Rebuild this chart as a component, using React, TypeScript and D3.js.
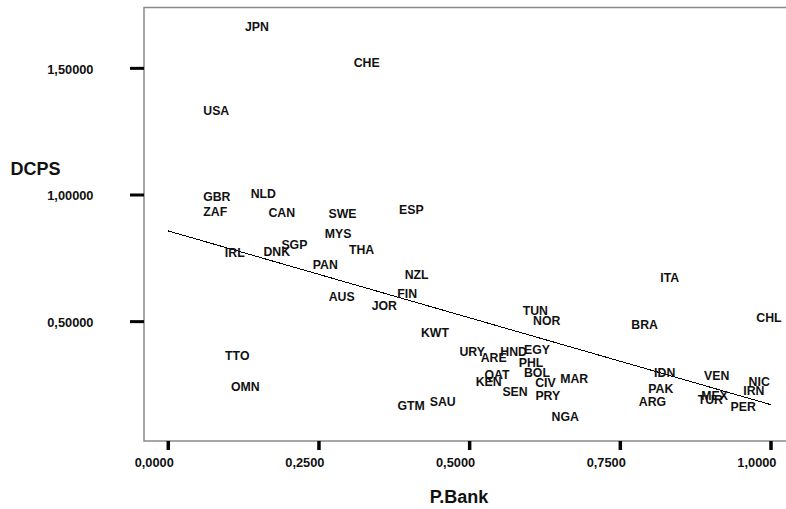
import React from "react";
import * as d3 from "d3";

// Country codes with their P.Bank (x) and DCPS (y) values
const countries = [
  "JPN", "CHE", "USA", "GBR", "NLD", "ZAF", "CAN", "SWE", "MYS", "SGP",
  "THA", "IRL", "DNK", "ESP", "PAN", "NZL", "FIN", "AUS", "JOR", "KWT",
  "TTO", "OMN", "GTM", "SAU", "URY", "ARE", "HND", "EGY", "PHL", "QAT",
  "BOL", "KEN", "CIV", "MAR", "SEN", "PRY", "NGA", "TUN", "NOR", "BRA",
  "ITA", "CHL", "IDN", "PAK", "ARG", "VEN", "MEX", "TUR", "PER", "NIC",
  "IRN",
];

const pBank = [
  0.1472, 0.3292, 0.0796, 0.0805, 0.1576, 0.078, 0.1882, 0.289, 0.2819, 0.2092,
  0.3206, 0.1103, 0.1799, 0.4032, 0.2605, 0.4121, 0.3964, 0.2877, 0.3584, 0.4425,
  0.1145, 0.1278, 0.403, 0.4553, 0.5042, 0.5399, 0.5731, 0.6117, 0.6018, 0.5454,
  0.6117, 0.5316, 0.6258, 0.6735, 0.5753, 0.6297, 0.6585, 0.6089, 0.628, 0.7904,
  0.8319, 0.9967, 0.8236, 0.8172, 0.8034, 0.9099, 0.9063, 0.8993, 0.954, 0.9804,
  0.9715,
];

const dcps = [
  1.6652, 1.5239, 1.3336, 0.9949, 1.0059, 0.9329, 0.9317, 0.925, 0.8488, 0.8058,
  0.7829, 0.7718, 0.7762, 0.942, 0.7237, 0.6842, 0.6119, 0.5985, 0.563, 0.458,
  0.3656, 0.2432, 0.1682, 0.184, 0.3833, 0.3573, 0.3833, 0.3893, 0.3368, 0.2914,
  0.3, 0.2637, 0.2606, 0.2736, 0.2235, 0.2073, 0.1248, 0.5432, 0.5038, 0.4895,
  0.6751, 0.5156, 0.3, 0.2369, 0.184, 0.2866, 0.2077, 0.1907, 0.1642, 0.2629,
  0.2274,
];

const xTicks = [0, 0.25, 0.5, 0.75, 1.0];
const xTickLabels = ["0,0000", "0,2500", "0,5000", "0,7500", "1,0000"];
const yTicks = [0.5, 1.0, 1.5];
const yTickLabels = ["0,50000", "1,00000", "1,50000"];

// Linear fit line over the P.Bank range 0..1
const fitRange = [0, 1];
const fitIntercept = 0.858;
const fitSlope = -0.686;

const W = 786;
const H = 509;
const FONT = "'Liberation Sans', Arial, Helvetica, sans-serif";

export default function App() {
  const plotLeft = 144;
  const plotTop = 7.5;
  const plotBottom = 441;

  const x = d3.scaleLinear().domain([-0.0403, 1.0249]).range([plotLeft, W]);
  const y = d3.scaleLinear().domain([0.0288, 1.7402]).range([plotBottom, plotTop]);

  const fitLine = d3
    .line<number>()
    .x((v) => x(v))
    .y((v) => y(fitIntercept + fitSlope * v))(fitRange) as string;

  return (
    <svg
      width={W}
      height={H}
      viewBox={`0 0 ${W} ${H}`}
      style={{ position: "fixed", left: 0, top: 0, background: "#fff" }}
      fontFamily={FONT}
    >
      <rect x={0} y={0} width={W} height={H} fill="#fff" />

      {/* plot frame (top, left, bottom) */}
      <path
        d={`M${W + 2},${plotTop}H${plotLeft}V${plotBottom}H${W + 2}`}
        fill="none"
        stroke="#8a8a8a"
        strokeWidth={1.5}
      />

      {/* y axis ticks and labels */}
      {yTicks.map((t, i) => (
        <g key={`y${i}`}>
          <line
            x1={plotLeft - 14}
            x2={plotLeft}
            y1={y(t)}
            y2={y(t)}
            stroke="#000"
            strokeWidth={3}
          />
          <text
            x={93.5}
            y={y(t) + 5.2}
            textAnchor="end"
            fontSize={12.8}
            fontWeight="bold"
            fill="#111"
          >
            {yTickLabels[i]}
          </text>
        </g>
      ))}

      {/* x axis ticks and labels */}
      {xTicks.map((t, i) => (
        <g key={`x${i}`}>
          <line
            x1={x(t)}
            x2={x(t)}
            y1={plotBottom}
            y2={plotBottom + 9}
            stroke="#000"
            strokeWidth={3.5}
          />
          <text
            x={x(t) + 5.5}
            y={466.5}
            textAnchor="end"
            fontSize={12.8}
            fontWeight="bold"
            fill="#111"
          >
            {xTickLabels[i]}
          </text>
        </g>
      ))}

      {/* axis titles */}
      <text x={35.5} y={175} textAnchor="middle" fontSize={18} fontWeight="bold" fill="#111">
        DCPS
      </text>
      <text x={459} y={503} textAnchor="middle" fontSize={18} fontWeight="bold" fill="#111">
        P.Bank
      </text>

      {/* fitted line */}
      <path d={fitLine} fill="none" stroke="#000" strokeWidth={1} shapeRendering="crispEdges" />

      {/* country labels as point markers */}
      {countries.map((c, i) => (
        <text
          key={c}
          x={x(pBank[i])}
          y={y(dcps[i])}
          dy="0.36em"
          textAnchor="middle"
          fontSize={12.3}
          fontWeight="bold"
          fill="#111"
        >
          {c}
        </text>
      ))}
    </svg>
  );
}
